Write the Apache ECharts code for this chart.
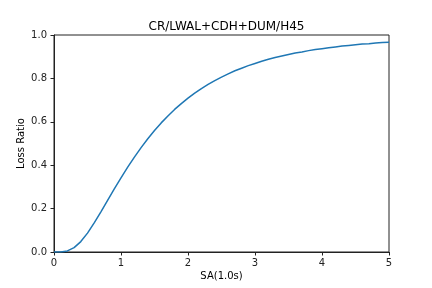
<!DOCTYPE html>
<html>
<head>
<meta charset="utf-8">
<script src="https://cdn.jsdelivr.net/npm/echarts@6/dist/echarts.min.js"></script>
<style>html,body{margin:0;padding:0;background:#fff}#c{width:432px;height:288px}</style>
</head>
<body>
<div id="c"></div>
<script>
const titleText = 'CR/LWAL+CDH+DUM/H45';
const xName = 'SA(1.0s)';
const yName = 'Loss Ratio';
const saValues = [0.0,0.1,0.2,0.3,0.4,0.5,0.6,0.7,0.8,0.9,1.0,1.1,1.2,1.3,1.4,1.5,1.6,1.7,1.8,1.9,2.0,2.1,2.2,2.3,2.4,2.5,2.6,2.7,2.8,2.9,3.0,3.1,3.2,3.3,3.4,3.5,3.6,3.7,3.8,3.9,4.0,4.1,4.2,4.3,4.4,4.5,4.6,4.7,4.8,4.9,5.0];
const lossRatio = [0,0.0002,0.005,0.020,0.048,0.087,0.134,0.185,0.238,0.291,0.342,0.391,0.437,0.481,0.522,0.560,0.595,0.627,0.657,0.684,0.709,0.732,0.753,0.772,0.790,0.806,0.821,0.835,0.847,0.859,0.869,0.879,0.888,0.896,0.903,0.910,0.917,0.922,0.928,0.933,0.937,0.941,0.945,0.949,0.952,0.955,0.958,0.960,0.963,0.965,0.967];
const xTicks = [0,1,2,3,4,5];
const yTicks = [0.0,0.2,0.4,0.6,0.8,1.0];

const font = 'DejaVu Sans';
const chart = echarts.init(document.getElementById('c'), null, {renderer:'canvas'});
chart.setOption({
  animation: false,
  backgroundColor: '#fff',
  title: {
    text: titleText, left: 221.5, top: 16, textAlign: 'center',
    textStyle: {fontFamily: font, fontSize: 12, fontWeight: 'normal', color: '#000'}
  },
  grid: {left: 54, right: 43, top: 35, bottom: 36, show: true, borderColor: '#222', borderWidth: 1},
  xAxis: {
    type: 'value', min: xTicks[0], max: xTicks[xTicks.length-1], interval: 1,
    name: xName, nameLocation: 'middle', nameGap: 19, nameMoveOverlap: false,
    nameTextStyle: {fontFamily: font, fontSize: 10, color: '#000'},
    axisLine: {show: true, lineStyle: {color: '#222', width: 1}},
    axisTick: {show: true, inside: false, length: 3.5, lineStyle: {color: '#222'}},
    axisLabel: {fontFamily: font, fontSize: 10, color: '#222', margin: 6},
    splitLine: {show: false}
  },
  yAxis: {
    type: 'value', min: yTicks[0], max: yTicks[yTicks.length-1], interval: 0.2,
    name: yName, nameLocation: 'middle', nameGap: 28, nameRotate: 90, nameMoveOverlap: false,
    nameTextStyle: {fontFamily: font, fontSize: 10, color: '#000'},
    axisLine: {show: true, lineStyle: {color: '#222', width: 1}},
    axisTick: {show: true, inside: false, length: 3.5, lineStyle: {color: '#222'}},
    axisLabel: {fontFamily: font, fontSize: 10, color: '#222', margin: 7, formatter: v => v.toFixed(1)},
    splitLine: {show: false}
  },
  series: [{
    type: 'line', data: saValues.map((x, i) => [x, lossRatio[i]]),
    showSymbol: false, symbol: 'none', smooth: false,
    lineStyle: {color: '#1f77b4', width: 1.5}, clip: true
  }]
});
</script>
</body>
</html>
